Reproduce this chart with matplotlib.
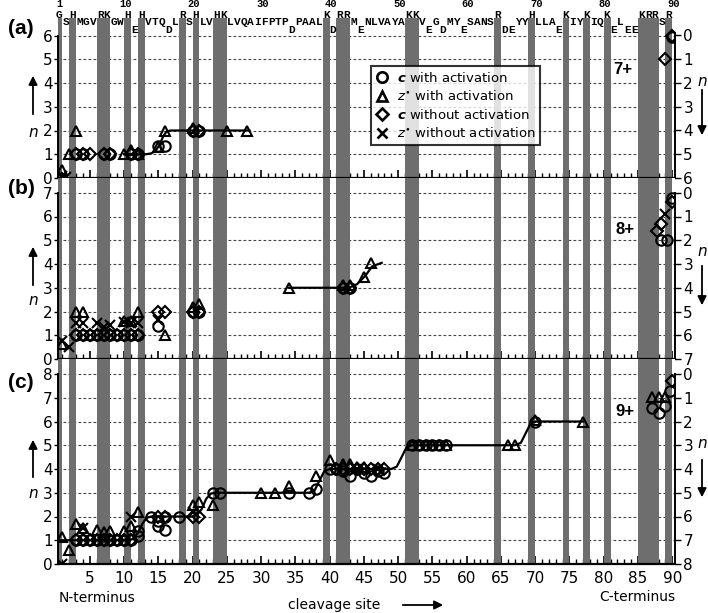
import numpy as np
import matplotlib
matplotlib.use('Agg')
import matplotlib.pyplot as plt
from matplotlib.lines import Line2D

# ---------------- data ----------------
sequence = "GSHMGVRKGWHEHVTQDLRSHLVHKLVQAIFPTPDPAALKDRRMENLVAYAKKVEGDMYESANSRDEYYHLLAEKIYKIQKELEEKRRSR"
seq_numbers = [1, 10, 20, 30, 40, 50, 60, 70, 80, 90]
xtick_major = [5, 10, 15, 20, 25, 30, 35, 40, 45, 50, 55, 60, 65, 70, 75, 80, 85, 90]
charges = ["7+", "8+", "9+"]
n_max = [6, 7, 8]
panel_labels = ["(a)", "(b)", "(c)"]

# panel (a) 7+
a_c_act_x = [3, 4, 7, 8, 11, 12, 15, 16, 20, 21, 90]
a_c_act_y = [1, 1, 1, 1, 1, 1, 1.35, 1.35, 2, 2, 5.95]
a_z_act_x = [1, 2, 3, 10, 11, 12, 15, 16, 20, 25, 28]
a_z_act_y = [0.35, 1, 2, 1, 1.2, 1, 1.3, 2, 2.1, 2, 2]
a_c_no_x = [3, 4, 5, 7, 8, 11, 12, 20, 21, 89, 90]
a_c_no_y = [1, 1, 1, 1, 1, 1, 1, 2, 2, 5, 6]
a_z_no_x = [1, 1.6]
a_z_no_y = [0.08, 0.05]
a_line_x = [10, 13.2, 14.0, 14.6, 15.2, 15.7, 16.2, 16.8, 28.3]
a_line_y = [1, 1, 1.04, 1.15, 1.4, 1.75, 1.96, 2, 2]

# panel (b) 8+
b_c_act_x = [3, 4, 5, 6, 7, 8, 9, 10, 11, 12, 15, 20, 21, 42, 43, 88.3, 89.3, 90]
b_c_act_y = [1, 1, 1, 1, 1, 1, 1, 1, 1, 1, 1.4, 2, 2, 3, 3, 5, 5, 6.8]
b_c_no_x = [3, 4, 5, 6, 7, 8, 9, 10, 11, 12, 15, 16, 20, 21, 42, 43, 87.8, 88.4, 90]
b_c_no_y = [1, 1, 1, 1, 1, 1, 1, 1, 1, 1, 2, 2, 2, 2, 3, 3, 5.4, 5.7, 6.6]
b_z_act_x = [1, 3, 4, 10, 11, 12, 16, 20, 21, 34, 42, 43, 45, 46]
b_z_act_y = [0.65, 2, 2, 1.6, 1.6, 2, 1.0, 2.2, 2.3, 3, 3.1, 3.1, 3.45, 4.05]
b_z_no_x = [1, 2, 3, 4, 6, 7, 8, 10, 11, 12, 15, 89]
b_z_no_y = [0.75, 0.5, 1.5, 1.5, 1.5, 1.35, 1.45, 1.55, 1.5, 1.5, 1.65, 6.1]
b_line_x = [34, 42.8, 44.0, 45.2, 46.2, 47.6]
b_line_y = [3, 3, 3.15, 3.5, 3.9, 4.05]

# panel (c) 9+
c_c_act_x = [3, 4, 5, 6, 7, 8, 9, 10, 11, 12, 12, 14, 15, 15, 16, 16, 18, 23, 24, 34, 37, 38,
             40, 41, 42, 43, 44, 45, 46, 47, 48, 52, 53, 54, 55, 56, 57, 70, 87, 88, 89, 89.6]
c_c_act_y = [1, 1, 1, 1, 1, 1, 1, 1, 1, 1.2, 1.4, 2, 1.8, 1.6, 1.45, 2, 2, 3, 3, 3, 3, 3.15,
             4, 4, 3.9, 3.7, 4, 3.85, 3.7, 3.9, 3.85, 5, 5, 5, 5, 5, 5, 6, 6.55, 6.35, 6.65, 7.3]
c_c_no_x = [3, 4, 5, 6, 7, 8, 9, 10, 11, 15, 16, 20, 21, 41, 42, 43, 44, 45, 46, 47, 48, 90]
c_c_no_y = [1, 1, 1, 1, 1, 1, 1, 1, 1, 2, 2, 2, 2, 4, 4, 4, 4, 4, 4, 4, 4, 7.7]
c_z_act_x = [1, 2, 3, 4, 6, 7, 8, 10, 11, 12, 20, 21, 23, 30, 32, 34, 38, 40, 42, 43, 44, 45,
             52, 53, 54, 55, 56, 57, 66, 67, 70, 77, 87, 88, 89]
c_z_act_y = [1.15, 0.6, 1.7, 1.5, 1.45, 1.35, 1.4, 1.4, 1.6, 2.2, 2.5, 2.6, 2.5, 3, 3, 3.3, 3.7, 4.4,
             4.2, 4.2, 4.1, 4.1, 5, 5, 5, 5, 5, 5, 5, 5, 6.05, 6, 7.05, 7.05, 7.05]
c_z_no_x = [1, 4, 11, 20, 44, 47]
c_z_no_y = [0.0, 1.5, 2.0, 2.2, 4.0, 4.0]
c_line_x = [0.4, 10.5, 11.3, 12.0, 12.7, 13.3, 14.0, 19.8, 20.6, 21.3, 22.0, 22.7, 23.5, 37.0, 37.8,
            38.5, 39.2, 40.0, 49.0, 49.8, 50.5, 51.2, 52.0, 67.0, 67.9, 68.6, 69.3, 70.0, 77.0]
c_line_y = [1.0, 1.0, 1.05, 1.3, 1.7, 1.95, 2.0, 2.0, 2.05, 2.3, 2.75, 2.97, 3.0, 3.0, 3.1,
            3.5, 3.9, 4.0, 4.0, 4.1, 4.5, 4.9, 5.0, 5.0, 5.1, 5.5, 5.9, 6.0, 6.0]

panels = [
    dict(c_act=(a_c_act_x, a_c_act_y), z_act=(a_z_act_x, a_z_act_y), c_no=(a_c_no_x, a_c_no_y),
         z_no=(a_z_no_x, a_z_no_y), line=(a_line_x, a_line_y)),
    dict(c_act=(b_c_act_x, b_c_act_y), z_act=(b_z_act_x, b_z_act_y), c_no=(b_c_no_x, b_c_no_y),
         z_no=(b_z_no_x, b_z_no_y), line=(b_line_x, b_line_y)),
    dict(c_act=(c_c_act_x, c_c_act_y), z_act=(c_z_act_x, c_z_act_y), c_no=(c_c_no_x, c_c_no_y),
         z_no=(c_z_no_x, c_z_no_y), line=(c_line_x, c_line_y)),
]

# ---------------- layout ----------------
W, H = 708, 613
fig = plt.figure(figsize=(W / 100, H / 100), dpi=100)

def fx(px):
    return px / W

def fy(py):
    return 1 - py / H

L, R = 58, 675
panel_px = [(18, 178), (178, 359), (359, 564)]   # top, bottom in pixels
XMIN, XMAX = 0.36, 90.4
BAND_COLOR = '#6e6e6e'

basic_pos = [i + 1 for i, ch in enumerate(sequence) if ch in "HRK" or i == 0]

mk = dict(ls='none', mfc='none', mec='black', color='black', mew=1.5, ms=7.5, zorder=5)
axes = []
for k, (top, bot) in enumerate(panel_px):
    ax = fig.add_axes([fx(L), fy(bot), (R - L) / W, (bot - top) / H])
    N = n_max[k]
    unit = 23.75
    ytop = (bot - top) / unit
    ax.set_xlim(XMIN, XMAX)
    ax.set_ylim(0, ytop)
    # bands
    for p in basic_pos:
        ax.axvspan(p - 1, p, color=BAND_COLOR, lw=0, zorder=2)
    # dashed grid
    for v in range(1, N + 1):
        ax.axhline(v, color='#444444', lw=0.8, ls=(0, (2.5, 2)), zorder=1)
    d = panels[k]
    ax.plot(*d['line'], color='black', lw=1.6, zorder=4)
    ax.plot(*d['c_act'], marker='o', **mk)
    ax.plot(*d['z_act'], marker='^', **mk)
    ax.plot(*d['c_no'], marker='D', **{**mk, 'ms': 6.5})
    ax.plot(*d['z_no'], marker='x', **mk)
    for s in ['top', 'right']:
        ax.spines[s].set_visible(False)
    ax.spines['left'].set_bounds(0, N)
    ax.spines['left'].set_linewidth(1.4)
    ax.spines['bottom'].set_linewidth(1.6)
    ax.spines['left'].set_zorder(6)
    ax.spines['bottom'].set_zorder(6)
    ax.set_yticks(range(0, N + 1))
    ax.tick_params(axis='y', direction='out', length=3, width=1, pad=1, labelsize=11)
    ax.set_xticks(xtick_major)
    ax.set_xticks(range(1, 91), minor=True)
    ax.tick_params(axis='x', which='major', direction='in', length=6, width=1.2,
                   labelsize=11, pad=5)
    ax.tick_params(axis='x', which='minor', direction='in', length=3.5, width=1)
    if k < 2:
        ax.tick_params(axis='x', labelbottom=False)
    # right axis
    tw = ax.twinx()
    tw.set_ylim(N, N - ytop)
    tw.set_yticks(range(0, N + 1))
    for s in ['top', 'left', 'bottom']:
        tw.spines[s].set_visible(False)
    tw.spines['right'].set_bounds(0, N)
    tw.spines['right'].set_linewidth(1.4)
    tw.tick_params(axis='y', direction='out', length=4, width=1, pad=2, labelsize=11)
    axes.append(ax)

# sequence on top
ax0 = axes[0]
row_y = {1: 15, 2: 22.3, 3: 29.6}
for i, ch in enumerate(sequence):
    if ch in "HRK" or i == 0:
        r = 1
    elif ch in "DE":
        r = 3
    else:
        r = 2
    fig.text(fx(62.4 + (i + 0.5 - 1) * 6.85), fy(row_y[r]), ch, ha='center', va='center',
             family='Liberation Mono', weight='bold', fontsize=8)
for n in seq_numbers:
    xpos = 0.5 if n == 1 else n + 0.2
    fig.text(fx(62.4 + (xpos - 1) * 6.85), fy(4.0), str(n), ha='center', va='center',
             family='Liberation Mono', weight='bold', fontsize=7.5)

# legend
handles = [
    Line2D([], [], marker='o', ls='none', mfc='none', mec='k', mew=1.9, ms=7.5),
    Line2D([], [], marker='^', ls='none', mfc='none', mec='k', mew=1.9, ms=7.5),
    Line2D([], [], marker='D', ls='none', mfc='none', mec='k', mew=1.9, ms=6.5),
    Line2D([], [], marker='x', ls='none', mfc='none', mec='k', mew=1.9, ms=7),
]
labels = [r"$\mathbfit{c}$ with activation", r"$\mathit{z}^{\bullet}$ with activation",
          r"$\mathbfit{c}$ without activation", r"$\mathit{z}^{\bullet}$ without activation"]
leg = ax0.legend(handles, labels, loc='upper left', bbox_to_anchor=(0.507, 0.70),
                 borderaxespad=0, frameon=True, fancybox=False, fontsize=9.5,
                 handlelength=1.0, handletextpad=0.6, labelspacing=0.35, borderpad=0.35)
leg.get_frame().set_edgecolor('black')
leg.get_frame().set_linewidth(1.5)
leg.set_zorder(10)

# panel labels, charges
panel_lab_y = [28, 188, 383]
charge_pos = [(623, 70), (625, 229), (625, 412)]
for k in range(3):
    fig.text(fx(21), fy(panel_lab_y[k]), panel_labels[k], ha='center', va='center',
             family='Liberation Sans', weight='bold', fontsize=15)
    fig.text(fx(charge_pos[k][0]), fy(charge_pos[k][1]), charges[k], ha='center', va='center',
             family='Liberation Sans', weight='bold', fontsize=12)

# n arrows
left_arrows = [(117, 73, 132), (288, 244, 300), (480, 437, 493)]
right_arrows = [(87, 138, 82), (263, 308, 252), (457, 500, 443)]
for (y0, y1, yn) in left_arrows:
    fig.add_artist(matplotlib.patches.FancyArrowPatch((fx(33), fy(y0)), (fx(33), fy(y1)),
                   transform=fig.transFigure, arrowstyle='-|>', mutation_scale=13,
                   color='black', lw=1.3))
    fig.text(fx(33), fy(yn), 'n', style='italic', ha='center', va='center', fontsize=11)
for (y0, y1, yn) in right_arrows:
    fig.add_artist(matplotlib.patches.FancyArrowPatch((fx(702), fy(y0)), (fx(702), fy(y1)),
                   transform=fig.transFigure, arrowstyle='-|>', mutation_scale=13,
                   color='black', lw=1.3))
    fig.text(fx(702), fy(yn), 'n', style='italic', ha='center', va='center', fontsize=11)

# bottom labels
fig.text(fx(59), fy(598), 'N-terminus', ha='left', va='center', fontsize=10)
fig.text(fx(675), fy(597), 'C-terminus', ha='right', va='center', fontsize=10)
fig.text(fx(334), fy(605), 'cleavage site', ha='center', va='center', fontsize=10)
fig.add_artist(matplotlib.patches.FancyArrowPatch((fx(400), fy(605)), (fx(446), fy(605)),
               transform=fig.transFigure, arrowstyle='-|>', mutation_scale=13,
               color='black', lw=1.3))

fig.savefig('out.png', dpi=100)
